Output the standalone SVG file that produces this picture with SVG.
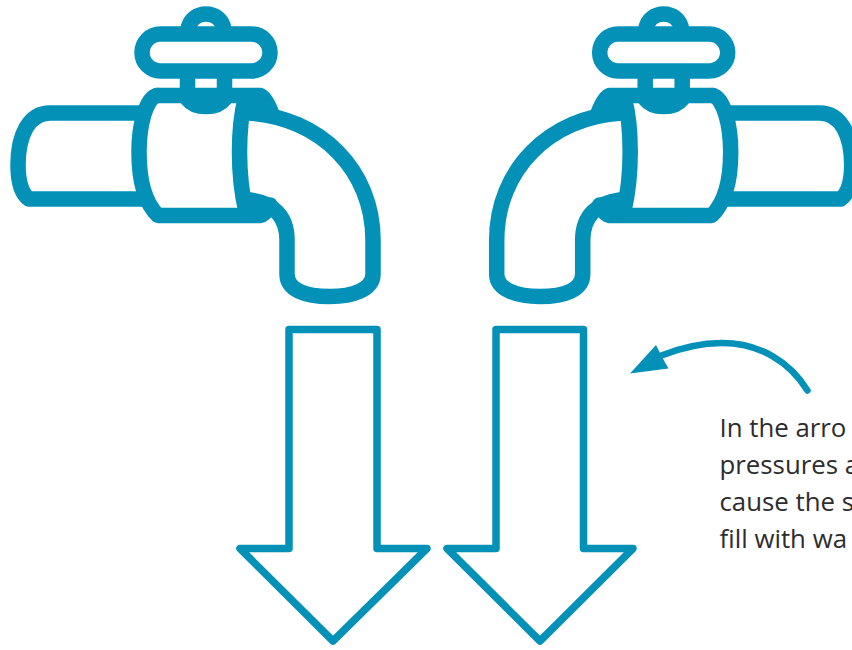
<svg xmlns="http://www.w3.org/2000/svg" width="852" height="650" viewBox="0 0 852 650">
<style>
.f{fill:none;stroke:#0391b8;stroke-width:15.5;stroke-linejoin:round;stroke-linecap:round}
.a{fill:none;stroke:#0391b8;stroke-width:7.5;stroke-linejoin:round}
.t{font-family:"Open Sans","Noto Sans",sans-serif;font-size:25.8px;fill:#2d2c2e}
</style>
<defs>
<g id="tap">
<path class="f" stroke-linecap="butt" d="M140 113H50C29 113 18 135 18 165C18 184 23 195 29 199H146"/>
<path class="f" d="M157 95.5C146 98 139 125 139 152C139 180 145 203 158 215.5H260C264 215 267 211 270 205"/>
<path class="f" d="M157 95.5H260C265 97 269 106 272 114"/>
<path class="f" d="M245 100C241 115 239.500 135 239.500 152C239.500 175 242 195 246 212"/>
<path d="M243 96H262L274 110L262 118L245 114Z" fill="#0391b8"/>
<path class="f" d="M248 113C320 117 373 170 373 240V274C373 290 352 296.500 330 296.500C305 296.500 287 290 287 274V240C287 215 272 203 250 200"/>
<rect class="f" x="142" y="34" width="128" height="37" rx="18.500"/>
<path class="f" stroke-linecap="butt" d="M188 30C189 19 198 14 206 14C214 14 223 19 224 30"/>
<path class="f" stroke-linecap="butt" d="M187.500 75V99C192 105 200 106.500 206 106.500C212 106.500 220 105 224.500 99V75"/>
</g>
</defs>
<g id="faucet-left"><use href="#tap"/></g>
<g id="faucet-right"><use href="#tap" transform="translate(869.700 0) scale(-1 1)"/></g>
<g id="arrow-left"><path class="a" d="M289 329.500H377V548.500H427L333 641L240 548.500H289Z"/></g>
<g id="arrow-right"><path class="a" d="M496 329.500H583.500V548.500H633L540 641L447 548.500H496Z"/></g>
<g id="connectors">
<path d="M807.500 390.500C790 362 760 343 722 343C700 343 680 348 660 356" fill="none" stroke="#0391b8" stroke-width="6.500" stroke-linecap="round"/>
<path d="M630 373.500L656 345L662 357L668.500 368.500Z" fill="#0391b8"/>
</g>
<g id="note">
<text class="t" x="719.500" y="436.500">In the arro</text>
<text class="t" x="719.500" y="473.500">pressures a</text>
<text class="t" x="719.500" y="510.500">cause the s</text>
<text class="t" x="719.500" y="547.500">fill with wa</text>
</g>
</svg>
